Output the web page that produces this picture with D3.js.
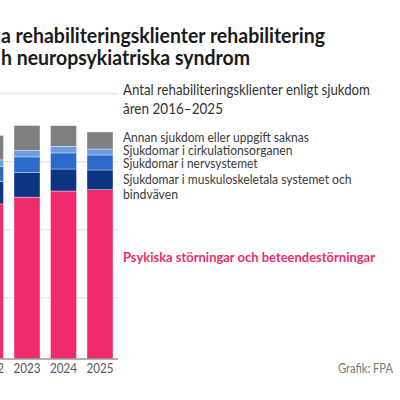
<!DOCTYPE html>
<html>
<head>
<meta charset="utf-8">
<script src="https://cdn.jsdelivr.net/npm/d3@7"></script>
<style>
  body { margin: 0; background: #fff; }
  svg text { font-family: Lato, "Noto Sans", sans-serif; }
</style>
</head>
<body>
<div id="chart"></div>
<script>
// data (only the visible years)
var years = ["2022", "2023", "2024", "2025"];
var psykiska   = [11400, 11900, 12350, 12450];
var muskulo    = [1650, 1800, 1620, 1450];
var nerv       = [1100, 1160, 1180, 1100];
var cirkulation = [490, 470, 485, 440];
var annan      = [1800, 1840, 1520, 1250];

var seriesKeys = ["psykiska", "muskulo", "nerv", "cirkulation", "annan"];  // bottom to top
var seriesColors = ["#ef2b6c", "#0b3583", "#2b6ac9", "#6b9de6", "#7f7f7f"];
var gridValues = [4500, 9500, 14500, 19500];

var titleLines = ["a rehabiliteringsklienter rehabilitering", "h neuropsykiatriska syndrom"];
var subtitleLines = ["Antal rehabiliteringsklienter enligt sjukdom", "åren 2016–2025"];
var labelLines = [
    ["Psykiska störningar och beteendestörningar"],
    ["Sjukdomar i muskuloskeletala systemet och", "bindväven"],
    ["Sjukdomar i nervsystemet"],
    ["Sjukdomar i cirkulationsorganen"],
    ["Annan sjukdom eller uppgift saknas"]
];
var credit = "Grafik: FPA";

var width = 400, height = 400;

// squeeze/stretch a text to the width it has in the picture
function fit(sel, w) {
    sel.attr("textLength", w).attr("lengthAdjust", "spacingAndGlyphs");
}

var svg = d3.select("#chart").append("svg")
    .attr("width", width)
    .attr("height", height);

// build table for the stack
var table = years.map(function (yr, i) {
    return {
        year: yr,
        psykiska: psykiska[i],
        muskulo: muskulo[i],
        nerv: nerv[i],
        cirkulation: cirkulation[i],
        annan: annan[i]
    };
});
var stacked = d3.stack().keys(seriesKeys)(table);

var x = d3.scaleBand()
    .domain(years)
    .range([-22.5, 113])
    .paddingInner(0.288)
    .paddingOuter(0);

var y = d3.scaleLinear()
    .domain([0, 25000])
    .range([359, 359 - 25000 * 0.0136]);

// gridlines
svg.append("g")
    .selectAll("line")
    .data(gridValues)
    .enter().append("line")
    .attr("x1", 0)
    .attr("x2", 118)
    .attr("y1", function (d) { return y(d); })
    .attr("y2", function (d) { return y(d); })
    .attr("stroke", "#dcdcdc")
    .attr("stroke-width", 1);

// bars
svg.append("g")
    .selectAll("g")
    .data(stacked)
    .enter().append("g")
    .attr("fill", function (d, i) { return seriesColors[i]; })
    .selectAll("rect")
    .data(function (d) { return d; })
    .enter().append("rect")
    .attr("x", function (d) { return x(d.data.year); })
    .attr("width", x.bandwidth())
    .attr("y", function (d) { return y(d[1]); })
    .attr("height", function (d) { return y(d[0]) - y(d[1]); })
    .attr("stroke", "#fff")
    .attr("stroke-width", 0.6)
    .attr("stroke-opacity", 0.6);

// baseline + year labels
svg.append("line")
    .attr("x1", 0).attr("x2", 118)
    .attr("y1", y(0)).attr("y2", y(0))
    .attr("stroke", "#999")
    .attr("stroke-width", 1.5);

var xAxis = svg.append("g")
    .attr("transform", "translate(0," + y(0) + ")")
    .call(d3.axisBottom(x).tickSize(0).tickPadding(4.5));
xAxis.select(".domain").remove();
xAxis.selectAll("text")
    .attr("fill", "#555")
    .style("font-size", "13px")
    .attr("textLength", 27)
    .attr("lengthAdjust", "spacingAndGlyphs");

// title
var titleW = [324, 249];
svg.append("g").selectAll("text")
    .data(titleLines)
    .enter().append("text")
    .attr("x", 1)
    .attr("y", function (d, i) { return 43 + i * 22; })
    .attr("fill", "#1a1a1a")
    .style("font-size", "20px")
    .style("font-weight", "bold")
    .attr("textLength", function (d, i) { return titleW[i]; })
    .attr("lengthAdjust", "spacingAndGlyphs")
    .text(function (d) { return d; });

// subtitle
var subW = [247, 100];
svg.append("g").selectAll("text")
    .data(subtitleLines)
    .enter().append("text")
    .attr("x", 123)
    .attr("y", function (d, i) { return 95 + i * 18.5; })
    .attr("fill", "#333")
    .style("font-size", "15px")
    .attr("textLength", function (d, i) { return subW[i]; })
    .attr("lengthAdjust", "spacingAndGlyphs")
    .text(function (d) { return d; });

// direct labels next to the last bar
var labelY = [262, 183.5, 168.3, 155, 141.7];
var labelW = [[252], [228.5, 55], [134.5], [169.5], [186]];
labelLines.forEach(function (lines, i) {
    lines.forEach(function (line, j) {
        var t = svg.append("text")
            .attr("x", 123)
            .attr("y", labelY[i] + j * 15)
            .attr("fill", i === 0 ? seriesColors[0] : "#3a3a3a")
            .style("font-size", i === 0 ? "13px" : "13.5px")
            .style("font-weight", i === 0 ? "bold" : "normal")
            .text(line);
        fit(t, labelW[i][j]);
    });
});

// credit
fit(svg.append("text")
    .attr("x", 393)
    .attr("y", 373)
    .attr("text-anchor", "end")
    .attr("fill", "#777")
    .style("font-size", "12.5px")
    .text(credit), 55);
</script>
</body>
</html>
